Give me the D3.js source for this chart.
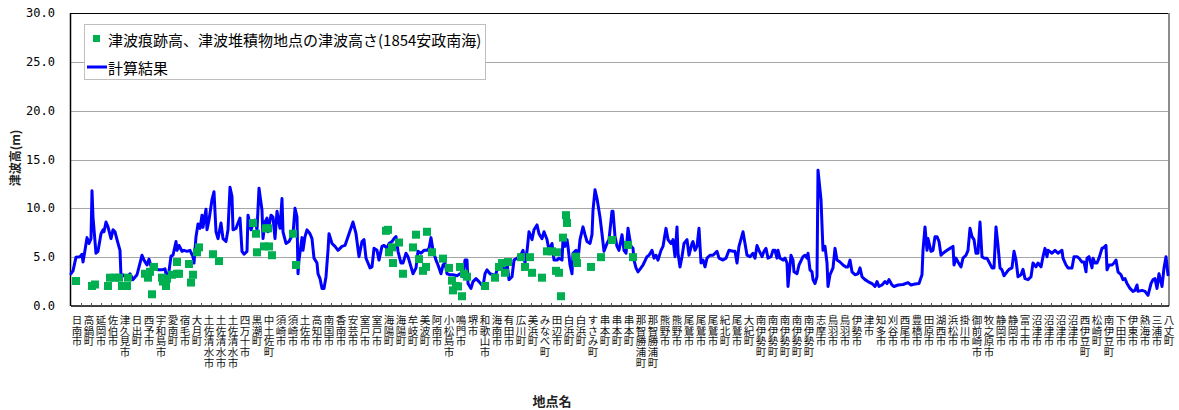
<!DOCTYPE html>
<html><head><meta charset="utf-8">
<script src="https://cdn.jsdelivr.net/npm/d3@7"></script>
<style>body{margin:0;background:#fff}</style>
</head><body><svg id="c" width="1179" height="410"></svg>
<script>
// ---------------- DATA ----------------
const categories = ["日南市","高鍋町","延岡市","佐伯市","津久見市","日出町","西予市","宇和島市","愛南町","宿毛市","大月町","土佐清水市","土佐清水市","土佐清水市","四万十市","黒潮町","中土佐町","須崎市","須崎市","土佐市","高知市","南国市","香南市","安芸市","室戸市","室戸市","海陽町","海陽町","牟岐町","美波町","阿南市","小松島市","鳴門市","堺市","和歌山市","海南市","有田市","広川町","美浜町","みなべ町","田辺市","白浜町","白浜町","すさみ町","串本町","串本町","串本町","那智勝浦町","那智勝浦町","熊野市","熊野市","尾鷲市","尾鷲市","尾鷲市","紀北町","尾鷲市","大紀町","南伊勢町","南伊勢町","南伊勢町","南伊勢町","南伊勢町","志摩市","鳥羽市","鳥羽市","伊勢市","津市","知多市","刈谷市","西尾市","豊橋市","田原市","湖西市","浜松市","掛川市","御前崎市","牧之原市","静岡市","静岡市","富士市","沼津市","沼津市","沼津市","沼津市","西伊豆町","松崎町","南伊豆町","下田市","伊東市","熱海市","三浦市","八丈町"];
const pointCount = 1098;      // computation points along the coast
const labelInterval = 12;     // one place-name label per 12 points
const tickInterval = 10;      // one tick mark per 10 points
const yTicks = [0,5,10,15,20,25,30];

// 計算結果 (point number, tsunami height m)
const calcIdx = [0,2,5,9,11,12,14,16,18,20,21,22,25,27,30,32,33,35,37,40,42,44,46,49,50,52,56,59,62,66,69,71,73,76,78,81,84,87,91,94,96,97,100,102,105,106,108,111,113,116,119,122,123,125,127,129,131,132,135,136,138,141,143,145,147,150,152,155,157,159,161,162,165,167,169,171,173,176,177,180,182,184,186,188,191,192,194,196,197,200,202,204,206,207,209,211,212,215,218,222,224,226,227,228,231,232,234,236,239,241,243,246,247,249,251,253,255,257,258,261,264,267,271,274,277,281,282,285,288,291,293,295,297,299,301,303,306,308,311,313,316,318,321,323,325,327,330,332,335,337,340,342,345,347,350,353,356,358,360,362,365,367,370,372,374,376,379,382,386,389,392,394,396,397,400,402,405,408,412,414,416,419,422,424,427,431,433,436,438,441,443,446,449,452,454,456,458,461,463,466,468,471,473,476,478,481,483,486,488,491,492,494,496,497,499,501,502,505,507,509,512,514,516,519,521,522,524,526,529,531,533,536,538,541,542,544,546,548,551,553,555,557,560,562,563,565,567,570,572,576,578,581,583,585,587,590,592,595,597,600,602,604,606,607,609,611,613,616,618,621,622,624,626,628,630,632,634,636,639,642,646,648,652,655,658,662,664,666,668,672,674,676,679,682,684,686,688,691,693,695,697,700,702,704,706,707,709,712,714,716,717,720,722,723,726,728,732,734,736,737,739,741,742,744,746,747,750,752,754,756,757,759,762,764,766,769,772,775,777,779,781,784,787,789,791,794,797,801,804,806,808,811,814,816,818,821,823,827,832,837,840,844,848,851,852,854,856,857,860,862,864,866,868,870,872,876,879,882,883,885,887,890,892,895,897,899,901,903,905,907,909,911,913,916,918,921,923,925,927,929,931,933,936,938,941,943,945,947,950,952,954,957,960,962,965,967,970,972,974,976,977,981,984,987,991,992,995,997,1001,1003,1006,1008,1011,1013,1015,1016,1018,1021,1022,1024,1026,1028,1031,1033,1035,1036,1038,1041,1043,1045,1047,1050,1052,1054,1056,1059,1062,1064,1066,1067,1071,1074,1077,1080,1082,1084,1086,1088,1091,1093,1095,1097];
const calcVal = [3.3,3.6,5.0,5.05,5.3,4.5,5.7,7.0,6.4,6.9,11.8,9.1,5.4,5.6,7.4,7.8,7.6,8.6,8.1,6.9,7.8,7.6,6.8,5.7,3.0,3.2,2.8,3.3,2.7,3.2,4.4,5.2,4.7,4.2,4.8,3.7,3.9,3.7,3.7,3.8,2.7,2.8,5.1,5.2,6.6,5.7,6.2,5.6,5.7,5.6,5.7,5.05,4.4,7.1,8.4,7.95,9.3,8.05,9.9,7.8,8.8,10.9,11.7,7.6,6.9,8.5,6.9,6.6,7.8,12.15,11.2,7.8,7.95,8.5,9.0,5.6,5.3,5.6,9.3,7.8,8.4,8.8,7.8,12.05,9.8,6.9,8.6,9.0,7.6,9.3,9.1,6.9,9.7,9.1,7.95,11.0,7.6,6.4,6.6,7.4,10.0,9.1,3.3,4.7,7.0,5.7,7.1,7.8,7.4,6.9,4.9,4.4,3.3,2.8,1.8,1.8,3.0,5.7,7.4,6.4,6.1,5.7,6.1,6.2,7.1,8.3,8.6,7.4,5.05,6.6,6.8,4.9,4.4,3.9,4.0,5.9,5.7,4.7,6.1,6.2,5.9,6.4,6.6,6.9,7.1,5.6,4.4,4.4,5.4,5.05,4.0,3.3,3.9,5.6,5.4,5.7,5.7,5.9,7.0,5.7,4.7,4.2,3.3,4.2,4.4,3.3,3.2,3.2,3.1,3.3,3.0,4.7,4.7,2.3,1.8,2.5,2.8,2.5,2.0,3.3,3.7,3.3,3.2,3.0,4.0,4.2,3.3,4.4,2.7,3.0,4.7,4.9,5.05,5.7,4.4,5.6,7.6,6.8,7.8,8.3,7.4,6.9,7.6,6.8,5.7,6.4,4.7,4.7,4.9,4.7,6.8,6.1,6.8,6.1,4.2,3.3,5.4,5.7,4.7,6.8,8.1,7.3,6.6,6.4,7.3,9.8,11.9,11.0,9.1,7.4,5.6,6.4,6.8,9.7,9.7,7.1,6.1,5.7,7.3,5.7,5.4,7.95,6.1,5.9,4.7,3.9,3.5,3.9,4.2,5.05,5.2,5.7,4.9,5.2,4.7,5.7,6.1,7.95,6.8,6.4,6.8,5.05,8.1,5.4,4.0,5.05,6.4,6.8,5.2,6.4,6.6,5.7,6.1,7.95,4.4,4.7,4.0,4.9,5.2,5.2,5.6,4.9,4.7,4.9,5.7,5.6,5.6,4.4,6.1,7.6,6.4,5.2,5.05,5.4,4.9,6.2,5.7,5.05,5.6,5.9,4.9,5.05,5.7,5.7,4.9,5.7,4.9,4.7,4.9,4.4,2.0,5.2,4.7,3.5,3.3,4.2,5.05,5.2,4.9,5.4,3.7,3.5,2.7,2.3,3.0,13.9,10.9,5.7,6.1,4.4,2.0,3.2,3.9,5.9,4.7,4.5,4.2,4.0,4.0,4.7,3.5,3.2,3.3,3.9,3.0,2.7,2.5,2.3,2.0,2.5,2.0,2.15,2.5,2.3,2.7,2.15,2.0,2.15,2.2,2.4,2.15,2.25,2.3,3.2,5.7,8.1,5.7,6.9,5.6,5.7,7.1,7.1,6.6,5.2,5.4,5.7,5.9,6.1,4.2,4.9,4.5,4.0,4.9,5.2,5.7,7.95,7.1,6.8,5.4,5.4,8.6,5.05,4.9,4.9,4.5,3.9,3.9,8.1,6.2,3.9,3.7,3.1,3.5,3.75,3.9,5.6,4.7,3.0,3.2,3.75,2.8,2.7,3.0,4.4,4.0,4.4,4.0,5.05,5.9,5.05,5.7,5.4,5.7,5.4,5.7,4.9,4.2,3.9,3.9,5.05,5.05,4.9,4.5,4.5,3.5,4.9,5.05,3.9,4.9,4.4,4.4,4.9,5.9,6.0,6.2,3.7,4.2,4.2,4.4,4.7,3.5,3.2,2.7,2.8,2.3,1.8,1.5,1.6,2.15,1.5,1.6,1.5,1.1,2.3,2.7,2.8,1.8,3.3,2.0,3.9,5.05,3.2];

// 津波痕跡高、津波堆積物地点の津波高さ (point number, height m)
const obsIdx = [5,21,24,37,39,44,48,51,56,57,74,77,79,83,81,91,92,95,96,101,106,106,108,118,120,122,126,128,142,148,182,185,186,193,195,197,198,201,222,225,315,317,318,321,322,328,332,342,345,348,352,355,356,361,372,378,381,382,385,387,389,391,393,396,414,424,428,431,434,437,450,454,459,461,471,476,481,486,485,488,490,492,495,496,505,506,520,530,541,557,562];
const obsVal = [2.56,2.05,2.2,2.05,2.9,2.9,2.9,2.05,2.05,2.9,3.3,2.9,3.5,4.0,1.2,2.9,2.5,2.05,2.8,3.2,4.5,3.3,3.3,4.3,2.4,3.2,5.5,6.0,5.3,4.6,8.5,7.4,5.5,6.1,7.95,7.95,6.1,5.2,7.4,4.2,7.7,7.8,5.5,6.0,4.4,6.5,3.3,6.0,7.3,4.8,3.6,4.0,7.6,5.5,4.85,3.9,2.6,1.6,2.05,2.0,4.0,1.0,3.3,3.0,2.05,2.9,4.0,4.4,3.4,4.5,5.0,4.0,5.0,3.4,2.9,5.6,5.6,5.5,3.6,3.4,1.0,7.0,9.3,8.5,5.05,4.4,4.0,5.0,6.75,6.25,5.0];

const legendLabels = ["津波痕跡高、津波堆積物地点の津波高さ(1854安政南海)", "計算結果"];
const yTitle = "津波高(m)";
const xTitle = "地点名";

// ---------------- DRAW ----------------
const FONT = '"Noto Sans CJK JP",sans-serif';
const NUMFONT = '"DejaVu Sans Mono","Liberation Mono",monospace';
const svg = d3.select("#c").style("font-family", FONT);
const L = 71, R = 1169, T = 13, B = 306;
const x = d3.scaleLinear().domain([0, pointCount]).range([L, R]);
const y = d3.scaleLinear().domain([0, 30]).range([B, T]);

// gridlines
svg.append("g").selectAll("line").data(yTicks.filter(v => v > 0 && v < 30)).join("line")
  .attr("x1", L).attr("x2", R).attr("y1", d => Math.round(y(d)) + 0.5).attr("y2", d => Math.round(y(d)) + 0.5)
  .attr("stroke", "#a6a6a6").attr("stroke-width", 1);

// y tick labels
svg.append("g").selectAll("text").data(yTicks).join("text")
  .attr("x", 55).attr("y", d => y(d)).attr("text-anchor", "end").attr("dominant-baseline", "central")
  .attr("font-family", NUMFONT).attr("font-size", 12).attr("fill", "#000").text(d3.format(".1f"));

// plot frame
svg.append("line").attr("x1", L).attr("x2", R).attr("y1", T + 0.5).attr("y2", T + 0.5).attr("stroke", "#000");
svg.append("line").attr("x1", R).attr("x2", R).attr("y1", T).attr("y2", B).attr("stroke", "#8c8c8c").attr("stroke-width", 2);
svg.append("line").attr("x1", L - 0.5).attr("x2", L - 0.5).attr("y1", T).attr("y2", B).attr("stroke", "#000").attr("stroke-width", 1.5);
svg.append("line").attr("x1", L).attr("x2", R).attr("y1", B).attr("y2", B).attr("stroke", "#000").attr("stroke-width", 1.5);

// category ticks
const tickIdx = d3.range(tickInterval, pointCount, tickInterval);
svg.append("g").selectAll("line").data(tickIdx).join("line")
  .attr("x1", d => Math.round(x(d)) + 0.5).attr("x2", d => Math.round(x(d)) + 0.5)
  .attr("y1", B - 3).attr("y2", B).attr("stroke", "#555");

// category labels (vertical writing)
svg.append("g").selectAll("text").data(categories).join("text")
  .attr("x", (d, i) => x(i * labelInterval + labelInterval / 2)).attr("y", 314.5)
  .style("writing-mode", "vertical-rl").style("text-orientation", "upright")
  .attr("font-size", 10.5).attr("letter-spacing", 0.3).attr("fill", "#111").text(d => d);

// line
const calc = calcIdx.map((i, k) => ({i, v: calcVal[k]}));
svg.append("path").datum(calc)
  .attr("d", d3.line().x(d => x(d.i)).y(d => y(d.v)))
  .attr("fill", "none").attr("stroke", "#0000ff").attr("stroke-width", 3)
  .attr("stroke-linejoin", "round").attr("stroke-linecap", "round");

// observation markers
const obs = obsIdx.map((i, k) => ({i, v: obsVal[k]}));
svg.append("g").selectAll("rect").data(obs).join("rect")
  .attr("x", d => x(d.i) - 4).attr("y", d => y(d.v) - 4).attr("width", 8).attr("height", 8)
  .attr("fill", "#00b050");

// axis titles
svg.append("text").attr("transform", "translate(20,158) rotate(-90)")
  .attr("text-anchor", "middle").attr("font-size", 12).attr("font-weight", "bold").attr("fill", "#222").text(yTitle);
svg.append("text").attr("x", 552).attr("y", 406)
  .attr("text-anchor", "middle").attr("font-size", 13).attr("font-weight", "bold").attr("fill", "#222").text(xTitle);

// legend
const lg = svg.append("g");
lg.append("rect").attr("x", 84.5).attr("y", 24.5).attr("width", 401).attr("height", 55)
  .attr("fill", "#fff").attr("stroke", "#bfbfbf");
lg.append("rect").attr("x", 93).attr("y", 35).attr("width", 7).attr("height", 7).attr("fill", "#00b050");
lg.append("text").attr("x", 108).attr("y", 39).attr("dominant-baseline", "central")
  .attr("font-size", 15).attr("fill", "#000").text(legendLabels[0]);
lg.append("line").attr("x1", 87).attr("x2", 107).attr("y1", 67).attr("y2", 67)
  .attr("stroke", "#0000ff").attr("stroke-width", 3);
lg.append("text").attr("x", 108).attr("y", 67).attr("dominant-baseline", "central")
  .attr("font-size", 15).attr("fill", "#000").text(legendLabels[1]);
</script></body></html>
